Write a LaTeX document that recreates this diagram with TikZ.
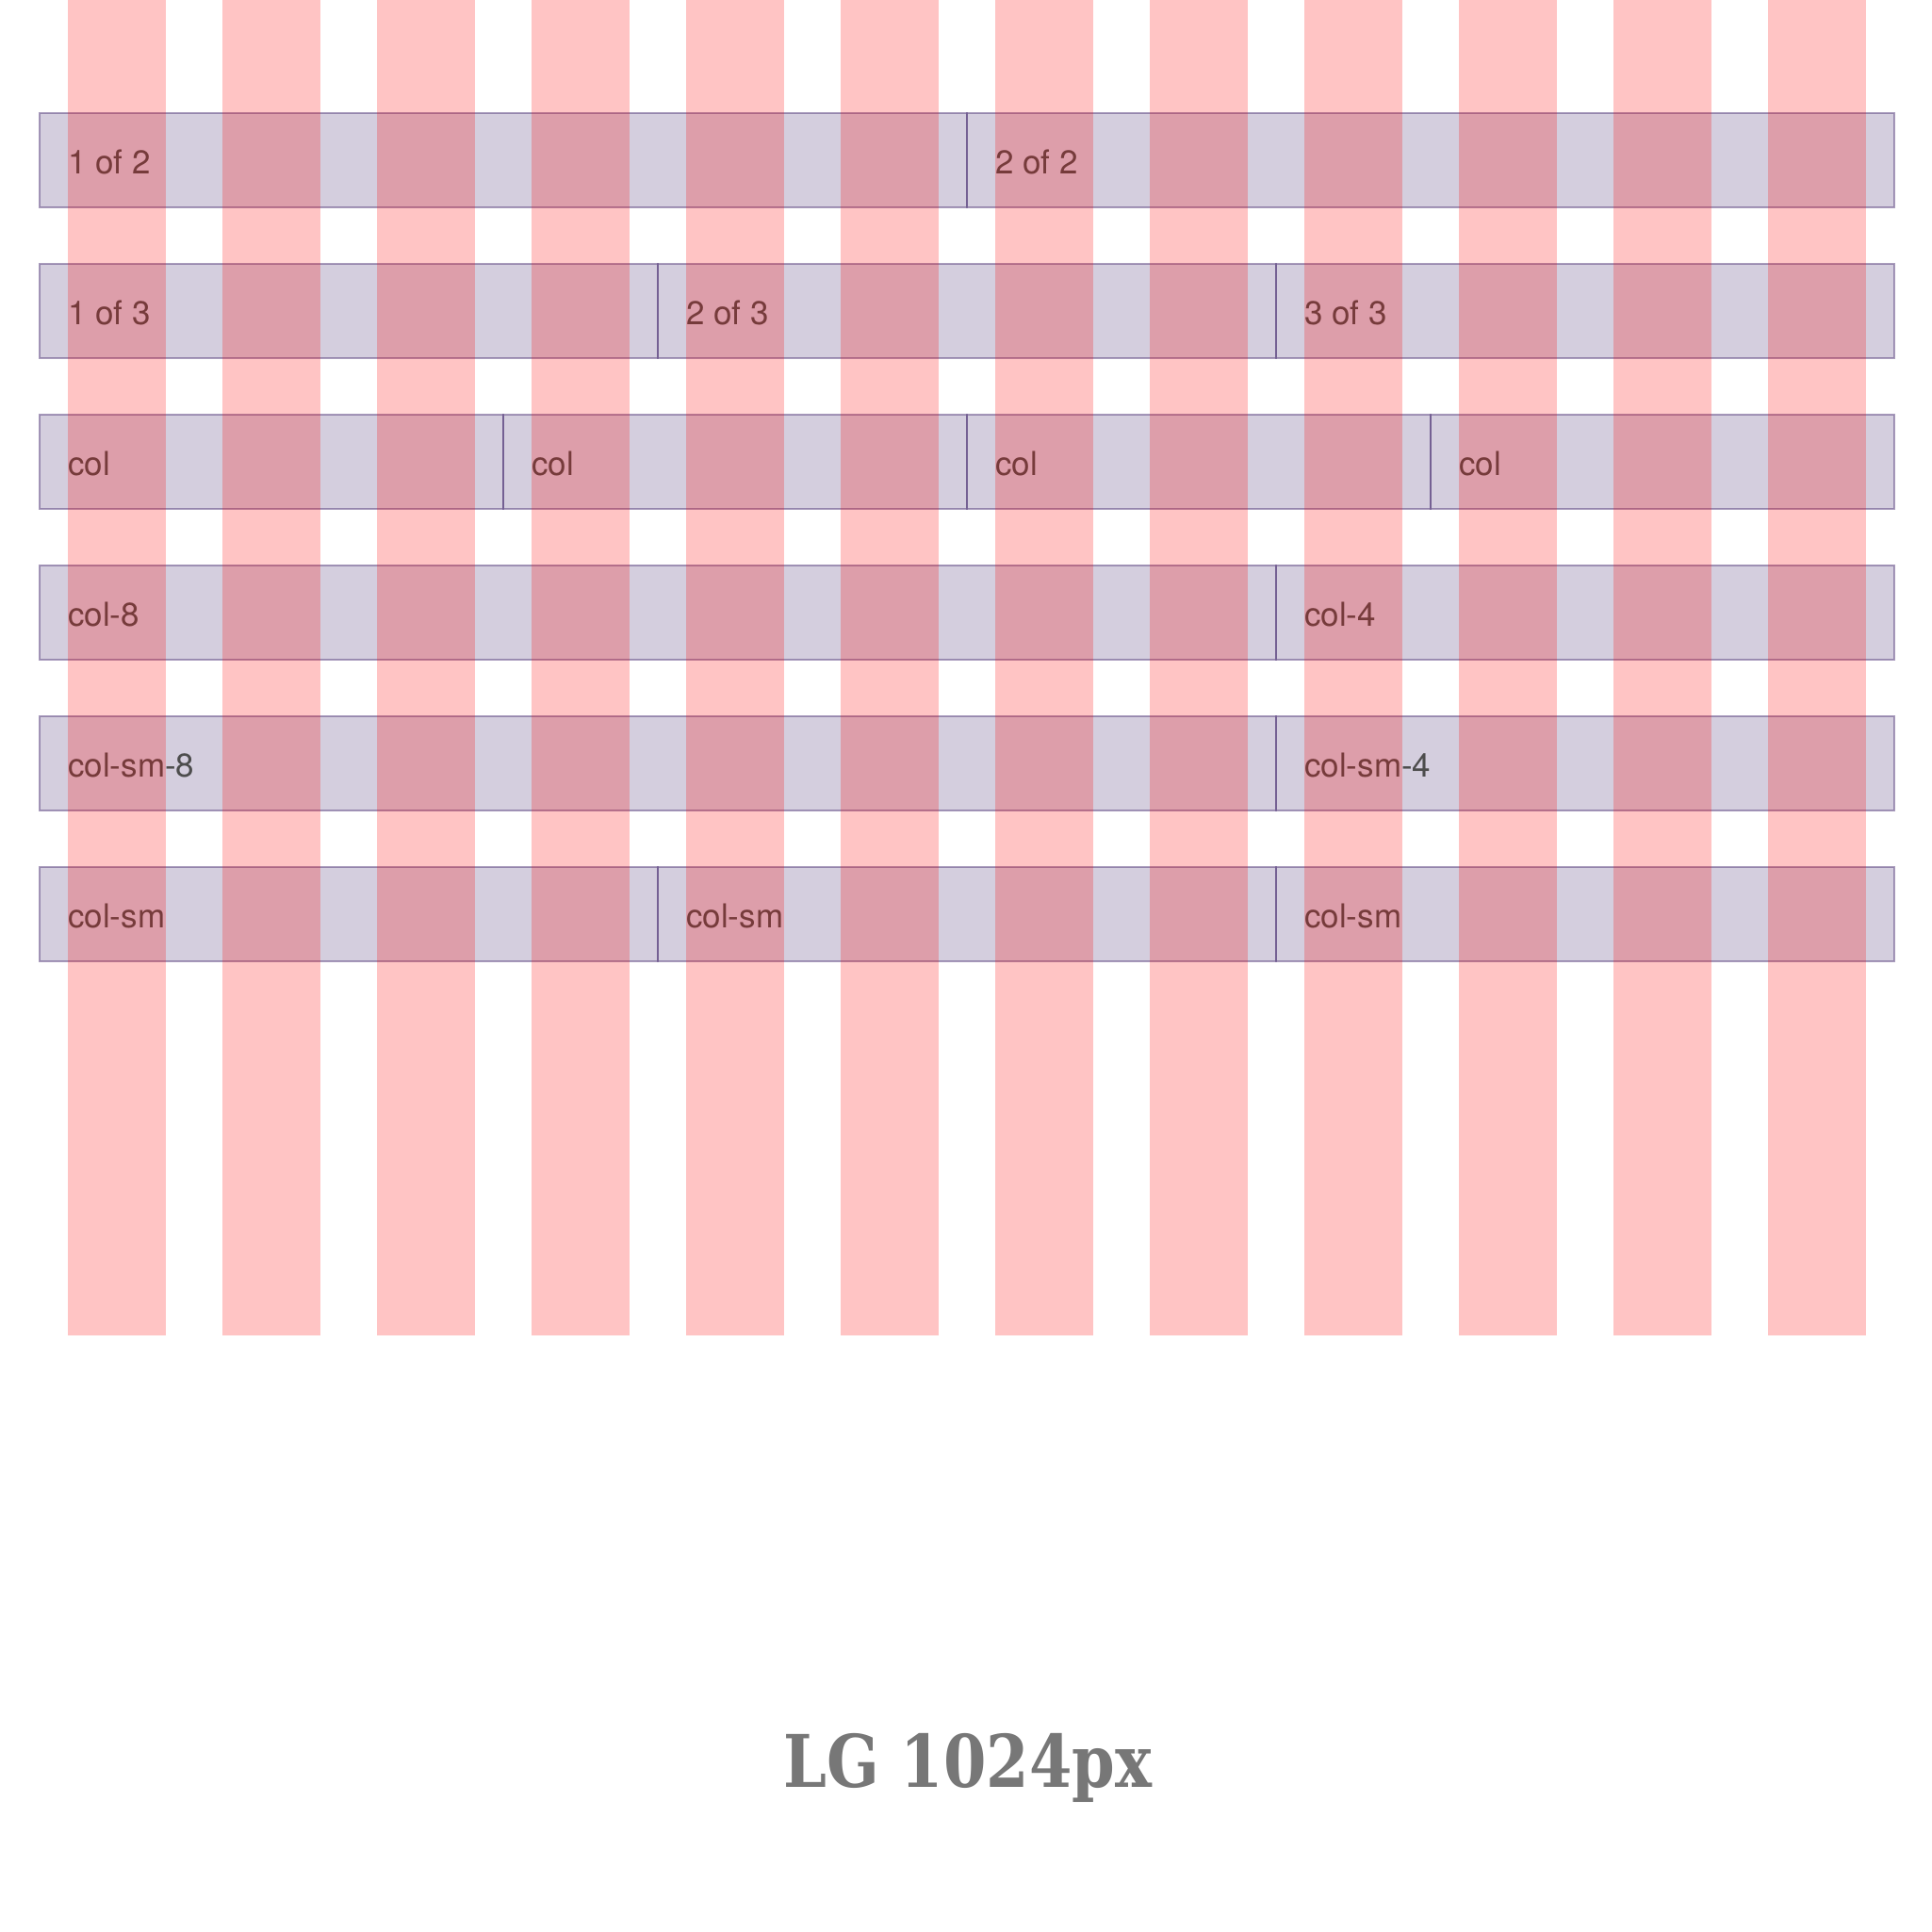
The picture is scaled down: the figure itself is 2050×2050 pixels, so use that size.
\documentclass[tikz,border=0pt]{standalone}
\usepackage{fontspec}
\usepackage{graphicx}
\setmainfont{TeX Gyre Heros}
\newfontfamily\slabfont{DejaVu Serif}
\definecolor{gridpurple}{RGB}{86,61,124}
\definecolor{txtgray}{RGB}{77,77,77}
\definecolor{titlegray}{RGB}{119,119,119}
\tikzset{
  cellst/.style={fill=gridpurple, fill opacity=0.25, draw=gridpurple, draw opacity=0.5, line width=1.5pt},
  lbl/.style={anchor=base west, inner sep=0pt, text=txtgray, font=\fontsize{35}{42}\selectfont},
  colst/.style={fill=red, fill opacity=0.23, draw=none},
}
\newcommand\gcell[5]{%
  \draw[cellst] (#1,#3) rectangle (#2,#3+100);
  \node[lbl] (#5) at (#1+30,#3+64) {#4};
}
\begin{document}
\begin{tikzpicture}[x=1pt,y=-1pt]
\useasboundingbox[fill=white] (0,0) rectangle (2050,2050);
% row 1
\gcell{42}{1026}{120}{1 of 2}{a1}
\gcell{1026}{2010}{120}{2 of 2}{a2}
% row 2
\gcell{42}{698}{280}{1 of 3}{b1}
\gcell{698}{1354}{280}{2 of 3}{b2}
\gcell{1354}{2010}{280}{3 of 3}{b3}
% row 3
\gcell{42}{534}{440}{col}{c1}
\gcell{534}{1026}{440}{col}{c2}
\gcell{1026}{1518}{440}{col}{c3}
\gcell{1518}{2010}{440}{col}{c4}
% row 4
\gcell{42}{1354}{600}{col-8}{d1}
\gcell{1354}{2010}{600}{col-4}{d2}
% row 5
\gcell{42}{1354}{760}{col-sm-8}{e1}
\gcell{1354}{2010}{760}{col-sm-4}{e2}
% row 6
\gcell{42}{698}{920}{col-sm}{f1}
\gcell{698}{1354}{920}{col-sm}{f2}
\gcell{1354}{2010}{920}{col-sm}{f3}
% grid columns overlay
\foreach \i in {0,...,11}{
  \fill[colst] ({72+164*\i},0) rectangle ({176+164*\i},1417);
}
% title
\node[anchor=base, inner sep=0pt, text=titlegray] (title) at (1027,1896)
  {\resizebox{391pt}{\height}{\slabfont\bfseries\fontsize{77}{90}\selectfont LG 1024px}};
\end{tikzpicture}
\end{document}
